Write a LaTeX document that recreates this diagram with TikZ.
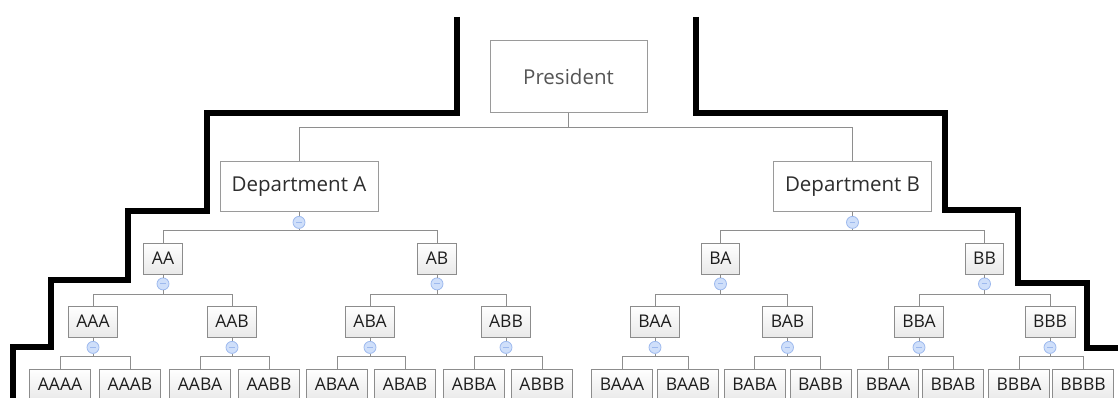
\documentclass[tikz,border=0pt]{standalone}
\usepackage{fontspec}
\setmainfont{Open Sans}
\usepackage{color}
\usepackage{tikz}
\usetikzlibrary{positioning}
\definecolor{boxline}{HTML}{9A9A9A}
\definecolor{unitline}{HTML}{8C8C8C}
\definecolor{unitfill}{HTML}{E9E9E9}
\definecolor{linkgray}{HTML}{8E8E8E}
\definecolor{togglefill}{HTML}{CFDFFA}
\definecolor{togglerim}{HTML}{9DB9EE}
\definecolor{headtext}{HTML}{555555}
\definecolor{depttext}{HTML}{2E2E2E}
\definecolor{unittext}{HTML}{1E1E1E}
\tikzstyle{head} = [rectangle, minimum width=157pt, minimum height=72pt, text centered, draw=boxline, fill=white, line width=1pt, text=headtext, font=\fontsize{20.5}{24}\selectfont]
\tikzstyle{dept} = [rectangle, minimum width=158pt, minimum height=49pt, text centered, draw=boxline, fill=white, line width=1pt, text=depttext, font=\fontsize{20.5}{24}\selectfont]
\tikzstyle{unit} = [rectangle, minimum height=31pt, inner xsep=8pt, text centered, draw=unitline, top color=white, bottom color=unitfill, line width=1pt, text=unittext, font=\fontsize{17.5}{20}\selectfont]
\tikzstyle{leaf} = [unit, minimum width=61pt]
\tikzstyle{toggle} = [circle, minimum size=12pt, inner sep=0pt, draw=togglerim, fill=togglefill, line width=0.8pt, path picture={\draw[togglerim, line width=1pt] ([xshift=-2.8pt]path picture bounding box.center) -- ([xshift=2.8pt]path picture bounding box.center);}]
\tikzstyle{link} = [draw=linkgray, line width=1pt]
\tikzstyle{wall} = [line width=6.5pt]

\begin{document}
\begin{tikzpicture}[x=1pt, y=-1pt, node distance=63pt]
	\useasboundingbox (0,0) rectangle (1118,398);
	\clip (0,0) rectangle (1118,398);

	% top of the chart
	\node (pres) [head] at (568.5,77) {President};
	\node (depA) [dept, below of=pres, xshift=-269.5pt, yshift=-46.5pt] {Department A};
	\node (depB) [dept, below of=pres, xshift=284pt, yshift=-46.5pt] {Department B};

	% second level
	\node (AA) [unit, below of=depA, xshift=-136pt, yshift=-9pt] {AA};
	\node (AB) [unit, below of=depA, xshift=138pt, yshift=-9pt] {AB};
	\node (BA) [unit, below of=depB, xshift=-132pt, yshift=-9pt] {BA};
	\node (BB) [unit, below of=depB, xshift=132pt, yshift=-9pt] {BB};

	% third level
	\node (AAA) [unit, below of=AA, xshift=-70pt] {AAA};
	\node (AAB) [unit, below of=AA, xshift=69pt] {AAB};
	\node (ABA) [unit, below of=AB, xshift=-67pt] {ABA};
	\node (ABB) [unit, below of=AB, xshift=69pt] {ABB};
	\node (BAA) [unit, below of=BA, xshift=-65.5pt] {BAA};
	\node (BAB) [unit, below of=BA, xshift=67pt] {BAB};
	\node (BBA) [unit, below of=BB, xshift=-65.5pt] {BBA};
	\node (BBB) [unit, below of=BB, xshift=65.5pt] {BBB};

	% bottom row
	\node (AAAA) [leaf, below of=AAA, xshift=-33pt] {AAAA};
	\node (AAAB) [leaf, below of=AAA, xshift=37pt] {AAAB};
	\node (AABA) [leaf, below of=AAB, xshift=-32pt] {AABA};
	\node (AABB) [leaf, below of=AAB, xshift=37pt] {AABB};
	\node (ABAA) [leaf, below of=ABA, xshift=-33pt] {ABAA};
	\node (ABAB) [leaf, below of=ABA, xshift=35pt] {ABAB};
	\node (ABBA) [leaf, below of=ABB, xshift=-32pt] {ABBA};
	\node (ABBB) [leaf, below of=ABB, xshift=36pt] {ABBB};
	\node (BAAA) [leaf, below of=BAA, xshift=-33pt] {BAAA};
	\node (BAAB) [leaf, below of=BAA, xshift=33pt] {BAAB};
	\node (BABA) [leaf, below of=BAB, xshift=-33pt] {BABA};
	\node (BABB) [leaf, below of=BAB, xshift=33pt] {BABB};
	\node (BBAA) [leaf, below of=BBA, xshift=-31pt] {BBAA};
	\node (BBAB) [leaf, below of=BBA, xshift=34pt] {BBAB};
	\node (BBBA) [leaf, below of=BBB, xshift=-31pt] {BBBA};
	\node (BBBB) [leaf, below of=BBB, xshift=33pt] {BBBB};

	% collapse buttons
	\node (depA-t) [toggle, below=4.5pt of depA] {};
	\node (depB-t) [toggle, below=4.5pt of depB] {};
	\node (AA-t) [toggle, below=3pt of AA] {};
	\node (AB-t) [toggle, below=3pt of AB] {};
	\node (BA-t) [toggle, below=3pt of BA] {};
	\node (BB-t) [toggle, below=3pt of BB] {};
	\node (AAA-t) [toggle, below=3.5pt of AAA] {};
	\node (AAB-t) [toggle, below=3.5pt of AAB] {};
	\node (ABA-t) [toggle, below=3.5pt of ABA] {};
	\node (ABB-t) [toggle, below=3.5pt of ABB] {};
	\node (BAA-t) [toggle, below=3.5pt of BAA] {};
	\node (BAB-t) [toggle, below=3.5pt of BAB] {};
	\node (BBA-t) [toggle, below=3.5pt of BBA] {};
	\node (BBB-t) [toggle, below=3.5pt of BBB] {};

	\draw [link](pres.south) -- ++(0,14) -| (depA.north);
	\draw [link](pres.south) -- ++(0,14) -| (depB.north);

	\draw [link](depA) -- (depA-t);
	\draw [link](depA-t.south) -- ++(0,2) -| (AA.north);
	\draw [link](depA-t.south) -- ++(0,2) -| (AB.north);
	\draw [link](depB) -- (depB-t);
	\draw [link](depB-t.south) -- ++(0,2) -| (BA.north);
	\draw [link](depB-t.south) -- ++(0,2) -| (BB.north);

	\draw [link](AA) -- (AA-t);
	\draw [link](AA-t.south) -- ++(0,4) -| (AAA.north);
	\draw [link](AA-t.south) -- ++(0,4) -| (AAB.north);
	\draw [link](AB) -- (AB-t);
	\draw [link](AB-t.south) -- ++(0,4) -| (ABA.north);
	\draw [link](AB-t.south) -- ++(0,4) -| (ABB.north);
	\draw [link](BA) -- (BA-t);
	\draw [link](BA-t.south) -- ++(0,4) -| (BAA.north);
	\draw [link](BA-t.south) -- ++(0,4) -| (BAB.north);
	\draw [link](BB) -- (BB-t);
	\draw [link](BB-t.south) -- ++(0,4) -| (BBA.north);
	\draw [link](BB-t.south) -- ++(0,4) -| (BBB.north);

	\draw [link](AAA) -- (AAA-t);
	\draw [link](AAA-t.south) -- ++(0,3) -| (AAAA.north);
	\draw [link](AAA-t.south) -- ++(0,3) -| (AAAB.north);
	\draw [link](AAB) -- (AAB-t);
	\draw [link](AAB-t.south) -- ++(0,3) -| (AABA.north);
	\draw [link](AAB-t.south) -- ++(0,3) -| (AABB.north);
	\draw [link](ABA) -- (ABA-t);
	\draw [link](ABA-t.south) -- ++(0,3) -| (ABAA.north);
	\draw [link](ABA-t.south) -- ++(0,3) -| (ABAB.north);
	\draw [link](ABB) -- (ABB-t);
	\draw [link](ABB-t.south) -- ++(0,3) -| (ABBA.north);
	\draw [link](ABB-t.south) -- ++(0,3) -| (ABBB.north);
	\draw [link](BAA) -- (BAA-t);
	\draw [link](BAA-t.south) -- ++(0,3) -| (BAAA.north);
	\draw [link](BAA-t.south) -- ++(0,3) -| (BAAB.north);
	\draw [link](BAB) -- (BAB-t);
	\draw [link](BAB-t.south) -- ++(0,3) -| (BABA.north);
	\draw [link](BAB-t.south) -- ++(0,3) -| (BABB.north);
	\draw [link](BBA) -- (BBA-t);
	\draw [link](BBA-t.south) -- ++(0,3) -| (BBAA.north);
	\draw [link](BBA-t.south) -- ++(0,3) -| (BBAB.north);
	\draw [link](BBB) -- (BBB-t);
	\draw [link](BBB-t.south) -- ++(0,3) -| (BBBA.north);
	\draw [link](BBB-t.south) -- ++(0,3) -| (BBBB.north);

	% the two stepped borders
	\draw [wall] (457,17) -- (457,113) -- (207,113) -- (207,211) -- (128,211) -- (128,280) -- (51,280) -- (51,347) -- (13,347) -- (13,402);
	\draw [wall] (696,17) -- (696,113) -- (945,113) -- (945,210) -- (1018,210) -- (1018,283) -- (1087,283) -- (1087,348) -- (1122,348);
\end{tikzpicture}
\end{document}
